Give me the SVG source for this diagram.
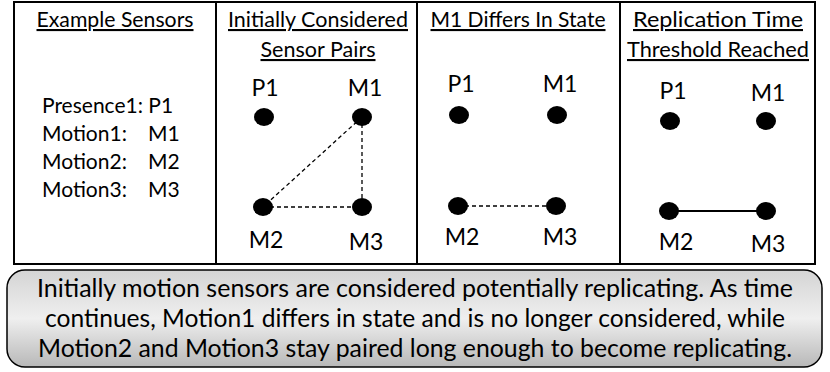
<svg xmlns="http://www.w3.org/2000/svg" width="830" height="372" viewBox="0 0 830 372">
<defs>
<linearGradient id="g" x1="0" y1="0" x2="0" y2="1">
<stop offset="0" stop-color="#d4d4d4"/>
<stop offset="0.5" stop-color="#efefef"/>
<stop offset="1" stop-color="#b8b8b8"/>
</linearGradient>
</defs>
<style>
text{font-family:Lato,"Open Sans","Liberation Sans",sans-serif;fill:#000}
.h{font-size:21px;text-anchor:middle;text-decoration:underline}
.l{font-size:23px;text-anchor:middle}
.t{font-size:21px}
.b{font-size:25px;text-anchor:middle}
.dot{fill:#000}
.dash{stroke:#000;stroke-width:1.3;stroke-dasharray:4,3;fill:none}
.solid{stroke:#000;stroke-width:2;fill:none}
.frame{fill:#fff;stroke:#000;stroke-width:2}
</style>
<rect width="830" height="372" fill="#fff"/>
<g id="table">
<rect class="frame" x="14" y="2" width="801" height="262"/>
<line x1="216" y1="2" x2="216" y2="264" stroke="#000" stroke-width="2"/>
<line x1="417" y1="2" x2="417" y2="264" stroke="#000" stroke-width="2"/>
<line x1="620" y1="2" x2="620" y2="264" stroke="#000" stroke-width="2"/>
</g>
<g id="panel1">
<text class="h" x="115" y="27" textLength="157" lengthAdjust="spacingAndGlyphs">Example Sensors</text>
<text class="t" x="42" y="113">Presence1: P1</text>
<text class="t" x="42" y="141">Motion1:</text><text class="t" x="148" y="141">M1</text>
<text class="t" x="42" y="169">Motion2:</text><text class="t" x="148" y="169">M2</text>
<text class="t" x="42" y="197">Motion3:</text><text class="t" x="148" y="197">M3</text>
</g>
<g id="connectors">
<line class="dash" x1="362" y1="117" x2="263" y2="207"/>
<line class="dash" x1="362" y1="117" x2="362" y2="207"/>
<line class="dash" x1="263" y1="207" x2="362" y2="207"/>
<line class="dash" x1="458" y1="206" x2="556" y2="206"/>
<line class="solid" x1="669" y1="211" x2="766" y2="211"/>
</g>
<g id="panel2">
<text class="h" x="318" y="27" textLength="180" lengthAdjust="spacingAndGlyphs">Initially Considered</text>
<text class="h" x="318" y="57" textLength="115" lengthAdjust="spacingAndGlyphs">Sensor Pairs</text>
</g>
<g id="p2-P1"><ellipse class="dot" cx="264" cy="117" rx="10" ry="9"/><text class="l" x="265" y="96">P1</text></g>
<g id="p2-M1"><ellipse class="dot" cx="362" cy="117" rx="10" ry="9"/><text class="l" x="365" y="96">M1</text></g>
<g id="p2-M2"><ellipse class="dot" cx="263" cy="207" rx="10" ry="9"/><text class="l" x="266" y="248">M2</text></g>
<g id="p2-M3"><ellipse class="dot" cx="362" cy="207" rx="10" ry="9"/><text class="l" x="366" y="250">M3</text></g>
<g id="panel3">
<text class="h" x="518" y="27" textLength="175" lengthAdjust="spacingAndGlyphs">M1 Differs In State</text>
</g>
<g id="p3-P1"><ellipse class="dot" cx="459" cy="115" rx="10" ry="9"/><text class="l" x="461" y="92">P1</text></g>
<g id="p3-M1"><ellipse class="dot" cx="557" cy="115" rx="10" ry="9"/><text class="l" x="560" y="92">M1</text></g>
<g id="p3-M2"><ellipse class="dot" cx="458" cy="206" rx="10" ry="9"/><text class="l" x="462" y="245">M2</text></g>
<g id="p3-M3"><ellipse class="dot" cx="556" cy="206" rx="10" ry="9"/><text class="l" x="560" y="245">M3</text></g>
<g id="panel4">
<text class="h" x="718" y="27" textLength="170" lengthAdjust="spacingAndGlyphs">Replication Time</text>
<text class="h" x="718" y="57" textLength="182" lengthAdjust="spacingAndGlyphs">Threshold Reached</text>
</g>
<g id="p4-P1"><ellipse class="dot" cx="670" cy="121" rx="10" ry="9"/><text class="l" x="673" y="99">P1</text></g>
<g id="p4-M1"><ellipse class="dot" cx="766" cy="121" rx="10" ry="9"/><text class="l" x="768" y="101">M1</text></g>
<g id="p4-M2"><ellipse class="dot" cx="669" cy="211" rx="10" ry="9"/><text class="l" x="676" y="250">M2</text></g>
<g id="p4-M3"><ellipse class="dot" cx="766" cy="211" rx="10" ry="9"/><text class="l" x="768" y="252">M3</text></g>
<g id="caption">
<rect x="7" y="270" width="815" height="97" rx="18" ry="18" fill="url(#g)" stroke="#000" stroke-width="1.5"/>
<text class="b" x="415" y="297" textLength="756" lengthAdjust="spacingAndGlyphs">Initially motion sensors are considered potentially replicating. As time</text>
<text class="b" x="415" y="327" textLength="740" lengthAdjust="spacingAndGlyphs">continues, Motion1 differs in state and is no longer considered, while</text>
<text class="b" x="415" y="357" textLength="754" lengthAdjust="spacingAndGlyphs">Motion2 and Motion3 stay paired long enough to become replicating.</text>
</g>
</svg>
